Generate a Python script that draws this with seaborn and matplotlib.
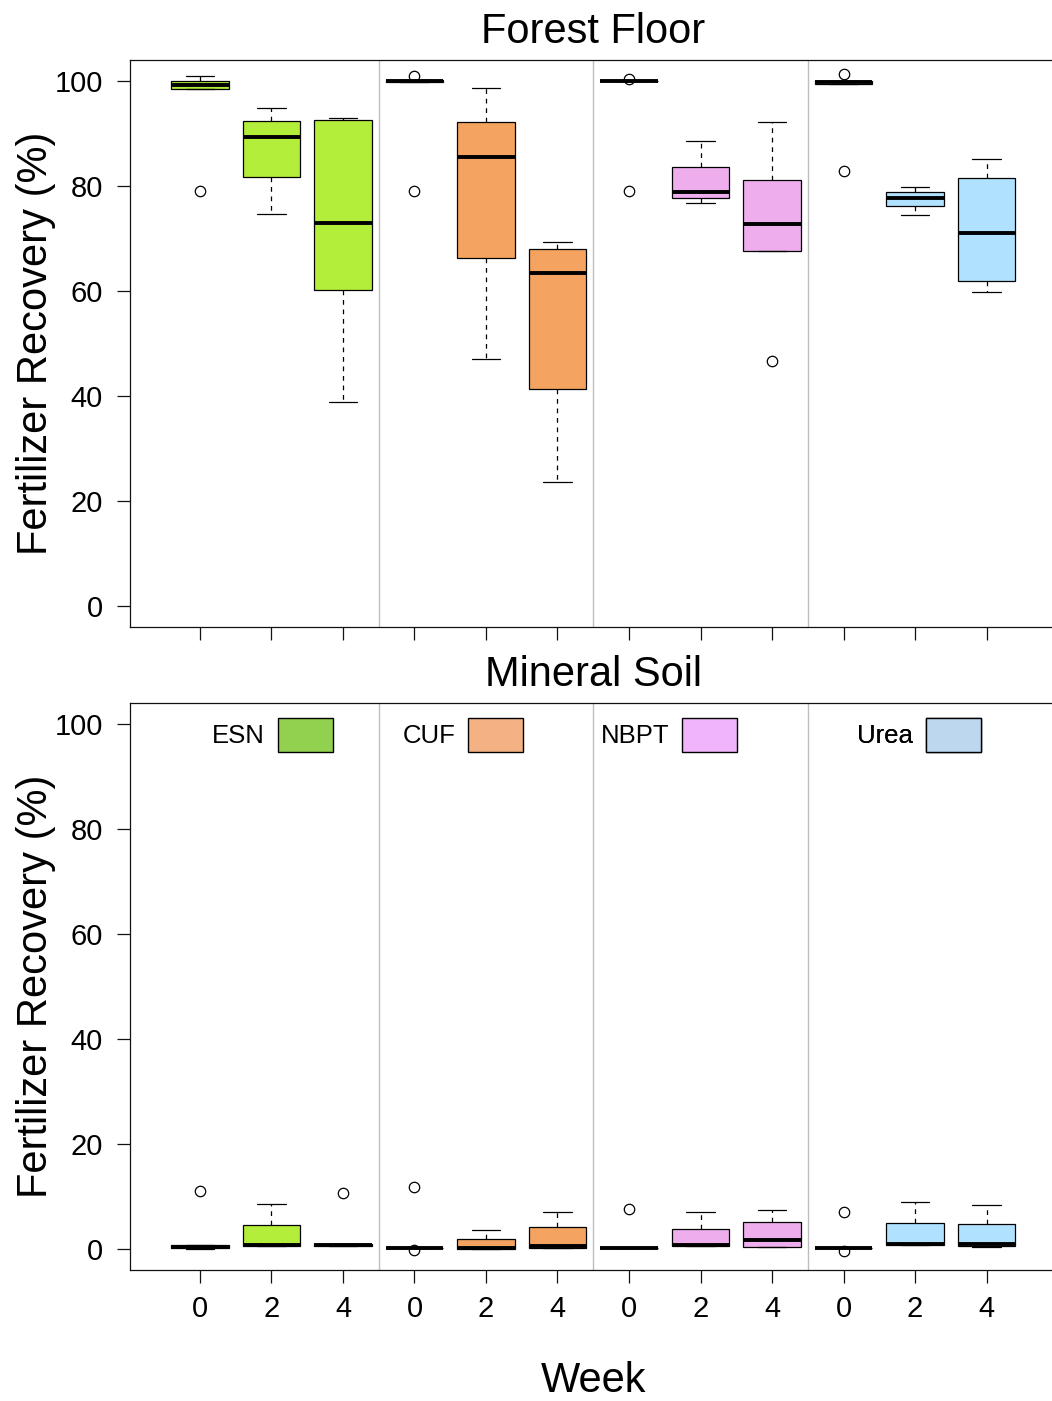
import pandas as pd
import matplotlib
matplotlib.use("Agg")
import matplotlib.pyplot as plt
import matplotlib.transforms as mtransforms
from matplotlib.patches import Patch
import seaborn as sns

fertilizers = ["ESN", "CUF", "NBPT", "Urea"]
weeks = ["0", "2", "4"]

# Fertilizer recovery (%), five replicates per fertilizer x week (weeks 0, 2, 4)
ff_esn = [[79.0, 98.5, 99.3, 100.0, 100.9],
          [74.7, 81.7, 89.3, 92.4, 94.8],
          [38.8, 60.2, 73.0, 92.5, 93.0]]
ff_cuf = [[79.0, 99.9, 100.0, 100.1, 101.0],
          [47.0, 66.2, 85.6, 92.1, 98.7],
          [23.6, 41.4, 63.4, 68.0, 69.3]]
ff_nbpt = [[79.0, 99.95, 100.0, 100.05, 100.4],
           [76.7, 77.8, 78.8, 83.6, 88.5],
           [46.6, 67.7, 72.8, 81.1, 92.2]]
ff_urea = [[82.9, 99.5, 99.8, 100.0, 101.3],
           [74.5, 76.1, 77.8, 78.8, 79.8],
           [59.8, 62.0, 71.0, 81.5, 85.1]]

ms_esn = [[0.05, 0.1, 0.45, 0.85, 11.1],
          [0.5, 0.6, 0.7, 4.6, 8.6],
          [0.5, 0.6, 0.8, 1.0, 10.6]]
ms_cuf = [[-0.15, 0.15, 0.2, 0.25, 11.9],
          [0.0, 0.05, 0.2, 1.9, 3.6],
          [0.1, 0.2, 0.6, 4.1, 7.1]]
ms_nbpt = [[0.1, 0.15, 0.2, 0.25, 7.7],
           [0.5, 0.6, 0.8, 3.9, 7.0],
           [0.3, 0.4, 1.8, 5.2, 7.4]]
ms_urea = [[-0.3, 0.15, 0.2, 0.25, 7.0],
           [0.7, 0.8, 0.9, 4.9, 8.9],
           [0.4, 0.6, 1.0, 4.7, 8.4]]

box_colors = ["#B3EE3A", "#F4A460", "#EEAEEE", "#B0E2FF"]
legend_colors = ["#92D050", "#F4B183", "#EFB4FB", "#BDD7EE"]
y_ticks = [0, 20, 40, 60, 80, 100]


def tidy(groups):
    rows = []
    for fert, per_week in zip(fertilizers, groups):
        for wk, vals in zip(weeks, per_week):
            for v in vals:
                rows.append({"fert": fert, "week": wk,
                             "slot": f"{fert} {wk}", "recovery": v})
    return pd.DataFrame(rows)


forest = tidy([ff_esn, ff_cuf, ff_nbpt, ff_urea])
mineral = tidy([ms_esn, ms_cuf, ms_nbpt, ms_urea])
order = [f"{f} {w}" for f in fertilizers for w in weeks]

sns.set_theme(style="ticks")
plt.rcParams["font.family"] = ["Liberation Sans", "DejaVu Sans"]
plt.rcParams.update({
    "axes.edgecolor": "#111111",
    "axes.linewidth": 0.9,
    "text.color": "black",
    "axes.labelcolor": "black",
    "axes.titlecolor": "black",
    "xtick.color": "#111111",
    "ytick.color": "#111111",
    "xtick.labelcolor": "black",
    "ytick.labelcolor": "black",
})

W, H = 1052, 1401
fig = plt.figure(figsize=(W / 100, H / 100), dpi=100)
x0, x1 = 129.9, 1056.6
ax_top = fig.add_axes([x0 / W, 1 - 627 / H, (x1 - x0) / W, 567 / H])
ax_bot = fig.add_axes([x0 / W, 1 - 1270 / H, (x1 - x0) / W, 567 / H])


def draw_panel(ax, df, title):
    sns.boxplot(data=df, x="slot", y="recovery", hue="fert",
                order=order, hue_order=fertilizers,
                palette=dict(zip(fertilizers, box_colors)),
                dodge=False, width=0.8, saturation=1, whis=1.5,
                linecolor="black", linewidth=0.9, fliersize=7.5, legend=False,
                flierprops=dict(marker="o", markerfacecolor="none",
                                markeredgecolor="black", markeredgewidth=0.9),
                medianprops=dict(linewidth=2.8, color="black"),
                whiskerprops=dict(linestyle=(0, (3.8, 3.8)), linewidth=0.9,
                                  color="black"),
                capprops=dict(linewidth=0.9, color="black"),
                ax=ax)
    for sep in (2.5, 5.5, 8.5):
        ax.axvline(sep, color="#BEBEBE", lw=1.0, zorder=0.5)
    ax.set_xlim(-0.98, 11.98)
    ax.set_ylim(-4, 104)
    ax.set_yticks(y_ticks)
    ax.set_yticklabels([str(t) for t in y_ticks])
    ax.set_xticks(range(len(order)))
    ax.set_xticklabels(weeks * len(fertilizers))
    ax.tick_params(axis="both", length=9.4, width=0.9, color="#111111",
                   labelcolor="black", labelsize=21, direction="out")
    ax.tick_params(axis="y", pad=10)
    ax.tick_params(axis="x", pad=8.5)
    for side in ("top", "right", "left", "bottom"):
        ax.spines[side].set_visible(True)
    ax.set_title(title, fontsize=30, pad=12, color="black")
    ax.set_ylabel("Fertilizer Recovery (%)", fontsize=30, color="black")
    ax.yaxis.set_label_coords(-0.0797, 0.5)
    ax.set_xlabel("")


draw_panel(ax_top, forest, "Forest Floor")
ax_top.tick_params(axis="x", labelbottom=False)

draw_panel(ax_bot, mineral, "Mineral Soil")
ax_bot.set_xlabel("Week", fontsize=30, color="black")
ax_bot.xaxis.set_label_coords(0.5, -0.161)

# One key entry per fertilizer group, swatch to the right of its name
key_right = [1.86, 4.52, 7.51, 10.92]
trans = mtransforms.blended_transform_factory(ax_bot.transData, ax_bot.transAxes)
for name, col, xr in zip(fertilizers, legend_colors, key_right):
    leg = ax_bot.legend(handles=[Patch(facecolor=col, edgecolor="black", lw=1.0)],
                        labels=[name], loc="upper right",
                        bbox_to_anchor=(xr, 0.9735), bbox_transform=trans,
                        frameon=False, borderpad=0, borderaxespad=0,
                        handlelength=2.14, handleheight=1.66, handletextpad=0.5,
                        markerfirst=False, fontsize=18.5, labelcolor="black")
    ax_bot.add_artist(leg)

fig.savefig("out.png", dpi=100)
